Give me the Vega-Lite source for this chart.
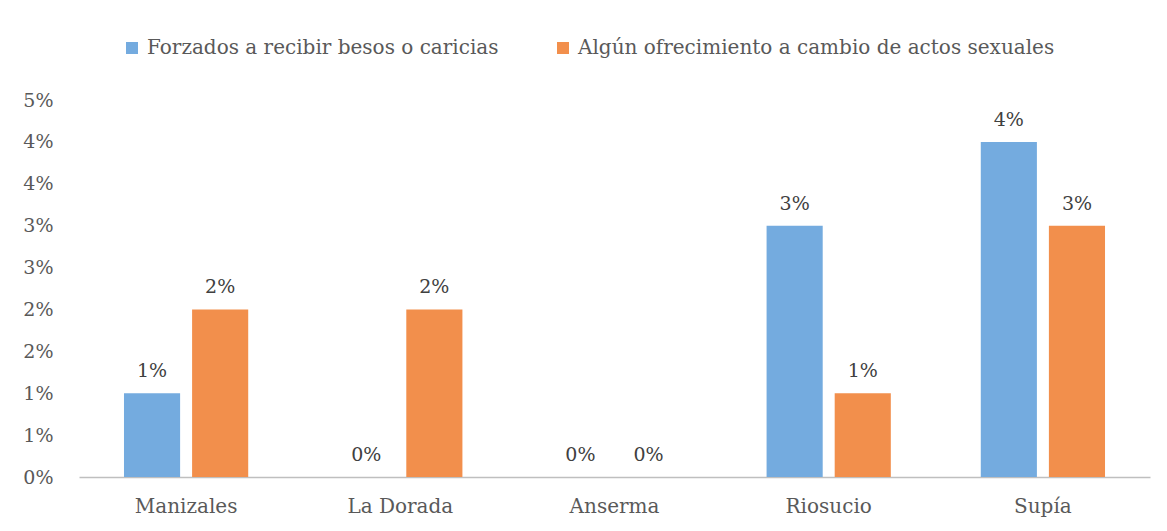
{
  "$schema": "https://vega.github.io/schema/vega-lite/v6.json",
  "autosize": {"type": "none"},
  "width": 1071,
  "height": 377,
  "padding": {"left": 79, "top": 100, "right": 17, "bottom": 54},
  "background": "white",
  "config": {
    "view": {"stroke": null},
    "font": "DejaVu Serif",
    "text": {"font": "DejaVu Serif"}
  },
  "data": {
    "values": [
      {"ciudad": "Manizales", "serie": "Forzados a recibir besos o caricias", "valor": 0.01},
      {"ciudad": "Manizales", "serie": "Algún ofrecimiento a cambio de actos sexuales", "valor": 0.02},
      {"ciudad": "La Dorada", "serie": "Forzados a recibir besos o caricias", "valor": 0.0},
      {"ciudad": "La Dorada", "serie": "Algún ofrecimiento a cambio de actos sexuales", "valor": 0.02},
      {"ciudad": "Anserma", "serie": "Forzados a recibir besos o caricias", "valor": 0.0},
      {"ciudad": "Anserma", "serie": "Algún ofrecimiento a cambio de actos sexuales", "valor": 0.0},
      {"ciudad": "Riosucio", "serie": "Forzados a recibir besos o caricias", "valor": 0.03},
      {"ciudad": "Riosucio", "serie": "Algún ofrecimiento a cambio de actos sexuales", "valor": 0.01},
      {"ciudad": "Supía", "serie": "Forzados a recibir besos o caricias", "valor": 0.04},
      {"ciudad": "Supía", "serie": "Algún ofrecimiento a cambio de actos sexuales", "valor": 0.03}
    ]
  },
  "encoding": {
    "x": {
      "field": "ciudad", "type": "nominal",
      "sort": ["Manizales", "La Dorada", "Anserma", "Riosucio", "Supía"],
      "scale": {"paddingInner": 0.42, "paddingOuter": 0.21},
      "axis": {
        "title": null, "labelAngle": 0, "ticks": false,
        "domainColor": "#bfbfbf", "domainWidth": 1.5,
        "labelColor": "#595959", "labelFontSize": 20, "labelPadding": 19,
        "labelFont": "DejaVu Serif"
      }
    },
    "xOffset": {
      "field": "serie", "type": "nominal",
      "sort": ["Forzados a recibir besos o caricias", "Algún ofrecimiento a cambio de actos sexuales"],
      "scale": {"paddingInner": 0.176, "paddingOuter": 0}
    },
    "y": {
      "field": "valor", "type": "quantitative",
      "scale": {"domain": [0, 0.045], "nice": false},
      "axis": {
        "title": null, "grid": false, "domain": false, "ticks": false,
        "values": [0, 0.005, 0.01, 0.015, 0.02, 0.025, 0.03, 0.035, 0.04, 0.045],
        "labelExpr": "round(datum.value * 100 + 0.000001) + '%'",
        "labelColor": "#595959", "labelFontSize": 19, "labelPadding": 26,
        "labelFont": "DejaVu Serif"
      }
    }
  },
  "layer": [
    {
      "mark": {"type": "bar"},
      "encoding": {
        "color": {
          "field": "serie", "type": "nominal",
          "sort": ["Forzados a recibir besos o caricias", "Algún ofrecimiento a cambio de actos sexuales"],
          "scale": {
            "domain": ["Forzados a recibir besos o caricias", "Algún ofrecimiento a cambio de actos sexuales"],
            "range": ["#74abdf", "#f28f4c"]
          },
          "legend": {
            "title": null, "orient": "none", "direction": "horizontal",
            "legendX": 43, "legendY": -62,
            "symbolType": "square", "symbolSize": 144, "symbolStrokeWidth": 0,
            "labelFontSize": 20, "labelColor": "#595959", "labelFont": "DejaVu Serif",
            "labelLimit": 700, "columnPadding": 54, "labelOffset": 5
          }
        }
      }
    },
    {
      "mark": {"type": "text", "dy": -22, "baseline": "middle", "fontSize": 19, "color": "#404040"},
      "encoding": {
        "text": {"field": "valor", "type": "quantitative", "format": ".0%"}
      }
    }
  ]
}
